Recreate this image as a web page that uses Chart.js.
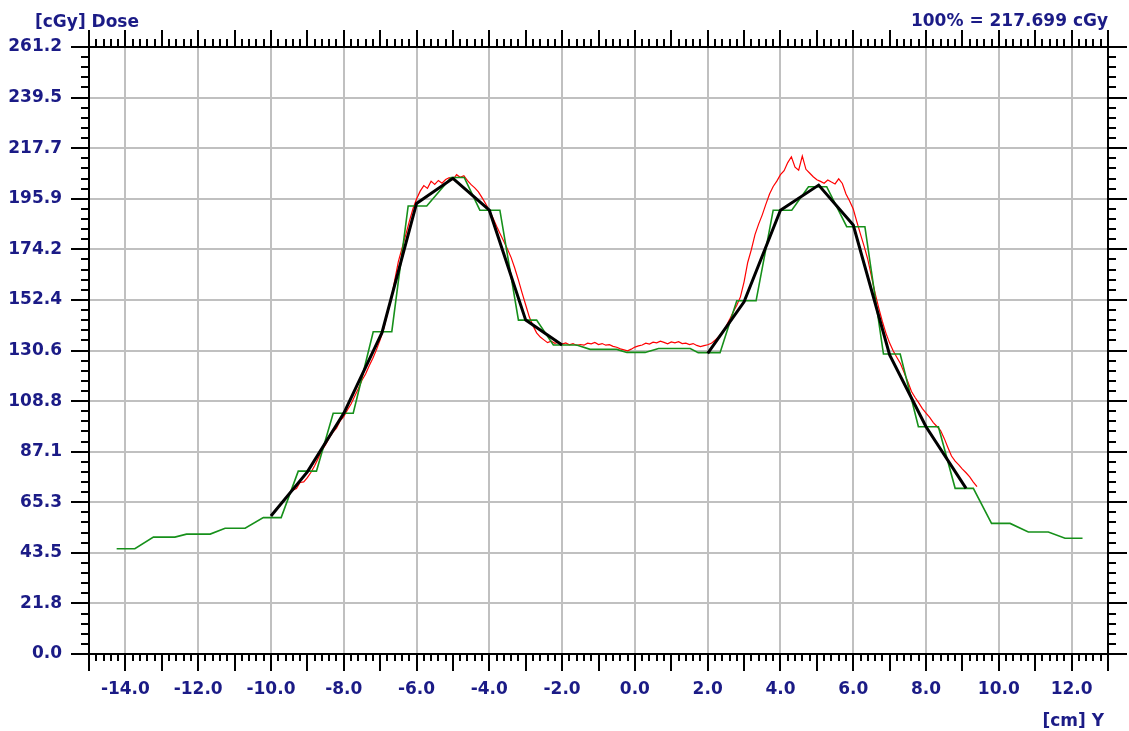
<!DOCTYPE html>
<html>
<head>
<meta charset="utf-8">
<script src="https://cdn.jsdelivr.net/npm/chart.js@4.4.1/dist/chart.umd.min.js"></script>
<style>
  html, body { margin: 0; padding: 0; background: #ffffff; }
  #wrap { position: relative; width: 1129px; height: 731px; overflow: hidden; background: #ffffff; }
  #wrap canvas { position: absolute; left: 0; top: 0; }
  .lbl { position: absolute; font-family: "DejaVu Sans", sans-serif; font-weight: bold; font-size: 17px; line-height: 17px; color: #1b1b86; white-space: nowrap; }
</style>
</head>
<body>
<div id="wrap">
  <canvas id="c" width="1129" height="731"></canvas>
  <div class="lbl" id="ytitle" style="left:35px; top:13px;">[cGy] Dose</div>
  <div class="lbl" id="norm" style="right:21px; top:12px;">100% = 217.699 cGy</div>
  <div class="lbl" id="xtitle" style="right:25px; top:712px;">[cm] Y</div>
</div>
<script>
// ---- axis ticks ----
const xTickValues = [-14, -12, -10, -8, -6, -4, -2, 0, 2, 4, 6, 8, 10, 12];
const xTickLabels = ["-14.0", "-12.0", "-10.0", "-8.0", "-6.0", "-4.0", "-2.0", "0.0", "2.0", "4.0", "6.0", "8.0", "10.0", "12.0"];
const yTickValues = [0, 21.7699, 43.5398, 65.3097, 87.0796, 108.8495, 130.6194, 152.3893, 174.1592, 195.9291, 217.699, 239.4689, 261.2388];
const yTickLabels = ["0.0", "21.8", "43.5", "65.3", "87.1", "108.8", "130.6", "152.4", "174.2", "195.9", "217.7", "239.5", "261.2"];
const xMin = -15, xMax = 13;

// ---- green profile (stepped) ----
const greenX = [-14.24, -13.74, -13.23, -12.64, -12.32, -11.67, -11.26, -10.71, -10.21, -9.72,
  -9.25, -8.75, -8.29, -7.74, -7.19, -6.68, -6.23, -5.72, -5.05, -4.69,
  -4.26, -3.71, -3.2, -2.7, -2.24, -1.6, -1.23, -0.5, -0.22, 0.28,
  0.65, 1.52, 1.74, 2.34, 2.8, 3.33, 3.8, 4.31, 4.77, 5.27,
  5.82, 6.32, 6.83, 7.29, 7.79, 8.34, 8.8, 9.3, 9.8, 10.31,
  10.81, 11.36, 11.82, 12.3];
const greenY = [45.3, 45.3, 50.3, 50.3, 51.6, 51.6, 54.1, 54.1, 58.7, 58.7,
  78.7, 78.7, 103.6, 103.6, 138.7, 138.7, 192.8, 192.8, 205.1, 205.1,
  191.0, 191.0, 143.7, 143.7, 133.0, 133.0, 131.1, 131.1, 129.8, 129.8,
  131.5, 131.5, 129.7, 129.7, 152.0, 152.0, 191.0, 191.0, 201.1, 201.1,
  183.9, 183.9, 129.1, 129.1, 97.8, 97.8, 71.3, 71.3, 56.2, 56.2,
  52.5, 52.5, 49.8, 49.8];

// ---- red measured profile, sampled every 0.1 cm from -9.5 cm ----
const redStart = -9.5;
const redStep = 0.1;
const redY = [
  69.0, 70.5, 71.2, 73.8, 74.1, 75.9, 78.2, 81.0, 84.3, 87.6,
  90.1, 93.0, 95.4, 97.2, 100.3, 102.1, 105.0, 107.6, 110.9, 114.2,
  117.8, 120.5, 124.1, 127.3, 131.0, 135.2, 140.1, 146.5, 152.3, 160.8,
  168.9, 174.6, 180.2, 186.1, 191.5, 195.8, 199.2, 201.6, 200.4, 203.5,
  202.1, 203.8, 202.6, 204.2, 205.0, 204.1, 206.3, 205.2, 205.8, 203.7,
  202.0, 200.6, 198.9, 196.4, 193.8, 190.9, 187.6, 184.1, 180.8, 177.5,
  174.2, 170.6, 166.0, 160.9, 155.4, 150.2, 145.0, 141.3, 138.2, 136.4,
  135.2, 134.0, 134.6, 133.7, 134.2, 133.4, 133.9, 133.1, 133.6, 132.8,
  133.2, 132.9, 133.8, 133.5, 134.1, 133.2, 133.6, 132.9, 133.1, 132.4,
  132.0, 131.3, 130.9, 130.5, 131.2, 132.1, 132.6, 133.0, 133.8, 133.4,
  134.2, 133.9, 134.6, 134.1, 133.5, 134.3, 133.9, 134.4, 133.6, 133.8,
  133.2, 133.6, 132.8, 132.3, 132.7, 133.1, 133.7, 135.0, 136.6, 138.4,
  140.8, 143.9, 147.2, 150.1, 153.7, 160.2, 168.5, 174.0, 180.5, 185.0,
  189.0, 193.6, 198.0, 201.2, 203.5, 206.3, 208.0, 211.5, 214.0, 209.5,
  208.2, 214.3, 208.6, 207.0, 205.4, 204.1, 203.4, 202.6, 204.0, 203.1,
  202.3, 204.5, 202.5, 198.0, 195.0, 191.5, 186.0, 180.6, 175.4, 169.8,
  162.5, 155.3, 149.0, 143.1, 138.0, 133.8, 130.4, 127.6, 124.9, 121.0,
  117.2, 113.0, 110.4, 108.1, 105.6, 103.7, 101.8, 99.6, 97.9, 96.2,
  92.8, 88.9, 85.2, 83.0, 81.4, 79.6, 78.0, 76.2, 74.0, 72.0
];

// ---- black fitted profile (gap in the middle) ----
const blackX = [-10.0, -9.0, -8.0, -6.95, -6.0, -5.0, -4.0, -3.0, -2.0, 0.0, 2.0, 3.0, 4.0, 5.05, 6.0, 7.0, 8.0, 9.1];
const blackY = [59.4, 78.4, 103.6, 138.3, 193.9, 204.7, 191.0, 143.7, 133.0, null, 129.4, 151.6, 191.0, 201.8, 184.6, 128.7, 97.8, 71.3];

const toPts = (xs, ys) => xs.map((x, i) => ({ x: x, y: ys[i] }));
const redPts = redY.map((v, i) => ({ x: Math.round((redStart + i * redStep) * 100) / 100, y: v }));

const TEXT = '#1b1b86';
const FONT = { family: 'DejaVu Sans', weight: 'bold', size: 17 };

const frameTicks = {
  id: 'frameTicks',
  afterDraw(chart) {
    const ctx = chart.ctx;
    const { left, right, top, bottom } = chart.chartArea;
    const xs = chart.scales.x, ys = chart.scales.y;
    ctx.save();
    ctx.strokeStyle = '#000';
    ctx.lineWidth = 2;
    ctx.beginPath();
    const nX = Math.round((xMax - xMin) / 0.2);
    for (let i = 0; i <= nX; i++) {
      const v = xMin + i * 0.2;
      const px = Math.round(xs.getPixelForValue(v));
      const major = i % 5 === 0;
      ctx.moveTo(px, bottom); ctx.lineTo(px, bottom + (major ? 17 : 7));
      ctx.moveTo(px, top); ctx.lineTo(px, top - (major ? 17 : 8));
    }
    const yMaxV = yTickValues[yTickValues.length - 1];
    const ySub = (yTickValues[1] - yTickValues[0]) / 5;
    const nY = Math.round(yMaxV / ySub);
    for (let i = 0; i <= nY; i++) {
      const v = i * ySub;
      const py = Math.round(ys.getPixelForValue(v));
      const major = i % 5 === 0;
      ctx.moveTo(left, py); ctx.lineTo(left - (major ? 18 : 8), py);
      ctx.moveTo(right, py); ctx.lineTo(right + (major ? 19 : 8), py);
    }
    ctx.stroke();
    ctx.lineWidth = 2;
    ctx.strokeRect(left, top, right - left, bottom - top);
    ctx.restore();
  }
};

new Chart(document.getElementById('c'), {
  type: 'line',
  data: {
    datasets: [
      { label: 'measured', data: redPts, borderColor: '#ff0000', borderWidth: 1.2, pointRadius: 0, tension: 0, order: 3 },
      { label: 'steps', data: toPts(greenX, greenY), borderColor: '#16901a', borderWidth: 1.6, pointRadius: 0, tension: 0, order: 2 },
      { label: 'fit', data: toPts(blackX, blackY), borderColor: '#000000', borderWidth: 3, pointRadius: 0, tension: 0, spanGaps: false, order: 1 }
    ]
  },
  options: {
    responsive: false,
    animation: false,
    events: [],
    layout: { padding: { left: 0, right: 21, top: 47, bottom: 0 } },
    plugins: { legend: { display: false }, tooltip: { enabled: false }, title: { display: false } },
    scales: {
      x: {
        type: 'linear', min: xMin, max: xMax,
        afterBuildTicks: (s) => { s.ticks = xTickValues.map(v => ({ value: v })); },
        afterFit: (s) => { s.height = 77; },
        ticks: { color: TEXT, font: FONT, padding: 25, maxRotation: 0, autoSkip: false,
                 callback: (v, i) => xTickLabels[i] },
        grid: { color: '#c0c0c0', lineWidth: 2, drawTicks: false },
        border: { display: false }
      },
      y: {
        type: 'linear', min: 0, max: yTickValues[yTickValues.length - 1],
        afterBuildTicks: (s) => { s.ticks = yTickValues.map(v => ({ value: v })); },
        afterFit: (s) => { s.width = 89; },
        ticks: { color: TEXT, font: FONT, padding: 27, autoSkip: false,
                 callback: (v, i) => yTickLabels[i] },
        grid: { color: '#c0c0c0', lineWidth: 2, drawTicks: false },
        border: { display: false }
      }
    }
  },
  plugins: [frameTicks]
});
</script>
</body>
</html>
